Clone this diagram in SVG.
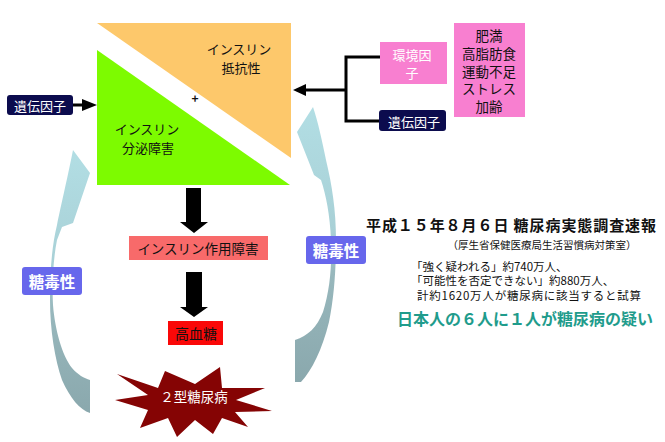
<svg xmlns="http://www.w3.org/2000/svg" width="665" height="442" viewBox="0 0 665 442">
<style>
text{font-family:"Noto Sans CJK JP","Noto Sans",sans-serif;dominant-baseline:central;text-anchor:middle}
.blk{fill:#111}
.wht{fill:#fff}
.navy{fill:#0c0c4e}
.pink{fill:#f87fd0}
.tox{fill:#6767ec}
.ln{stroke:#000;stroke-width:3;fill:none}
.st{text-anchor:start}
</style>
<defs>
<linearGradient id="gl" gradientUnits="userSpaceOnUse" x1="0" y1="150" x2="0" y2="414">
<stop offset="0" stop-color="#b2dee4"/><stop offset="0.45" stop-color="#a8d0d6"/><stop offset="0.6" stop-color="#98b8bd"/><stop offset="1" stop-color="#8aa8ad"/>
</linearGradient>
<linearGradient id="gr" gradientUnits="userSpaceOnUse" x1="0" y1="107" x2="0" y2="382">
<stop offset="0" stop-color="#b2dee4"/><stop offset="0.45" stop-color="#a8d0d6"/><stop offset="0.6" stop-color="#98b8bd"/><stop offset="1" stop-color="#8aa8ad"/>
</linearGradient>
</defs>
<rect width="665" height="442" fill="#fff"/>

<g id="arc-left">
<path d="M73,150 L90,173 L73,223 L62,227 L57,240 C53,260 52,285 53,305 C55,330 62,355 72,368 C78,375 84,378 90,380 L90,413 C80,410 70,398 62,380 C55,360 50,330 50,300 C50,270 52,245 57,225 C61,205 66,185 73,150 Z" fill="url(#gl)"/>
</g>
<g id="arc-right">
<path d="M313,107 L297,132 L314,175 L321,180 C326,195 330,215 331,240 C332,265 330,290 323,312 C317,327 308,336 295,340 L295,382 L301,382 C312,370 322,350 329,322 C334,298 336,270 336,240 C336,210 332,185 326,160 C322,140 318,122 313,107 Z" fill="url(#gr)"/>
</g>

<g id="square">
<polygon points="97,23 291,23 291,158" fill="#fdc86b"/>
<polygon points="97,50 97,185 290,185" fill="#7dfb00"/>
<text x="239" y="48" font-size="13" class="blk">インスリン</text>
<text x="241" y="67" font-size="13" class="blk">抵抗性</text>
<text x="147" y="128" font-size="13" class="blk">インスリン</text>
<text x="148" y="147" font-size="13" class="blk">分泌障害</text>
<text x="195" y="97" font-size="12" font-weight="bold" class="blk">+</text>
</g>

<g id="connectors">
<line x1="72" y1="105" x2="84" y2="105" class="ln"/>
<polygon points="82,99 97,105 82,111" fill="#000"/>
<polyline points="380,57 346,57 346,121 380,121" class="ln"/>
<line x1="346" y1="90" x2="304" y2="90" class="ln"/>
<polygon points="306,84 293,90 306,96" fill="#000"/>
<polygon points="186,188 201,188 201,222 208,222 194,233 180,222 186,222" fill="#000"/>
<polygon points="186,272 202,272 202,307 208,307 194,317 180,307 186,307" fill="#000"/>
</g>

<g id="gene-left">
<rect x="7" y="95" width="66" height="20" rx="3" class="navy"/>
<text x="40" y="105" font-size="13" class="wht">遺伝因子</text>
</g>

<g id="env">
<rect x="380" y="42" width="67" height="42" class="pink"/>
<text x="412" y="54" font-size="13" class="wht">環境因</text>
<text x="412" y="72" font-size="13" class="wht">子</text>
</g>

<g id="gene-right">
<rect x="379" y="110" width="67" height="21" rx="3" class="navy"/>
<text x="414" y="121" font-size="13" class="wht">遺伝因子</text>
</g>

<g id="factors">
<rect x="454" y="23" width="71" height="94" class="pink"/>
<text x="489" y="35" font-size="13.5" class="blk">肥満</text>
<text x="489" y="53" font-size="13.5" class="blk">高脂肪食</text>
<text x="489" y="71" font-size="13.5" class="blk">運動不足</text>
<text x="489" y="88" font-size="13.5" class="blk">ストレス</text>
<text x="489" y="106" font-size="13.5" class="blk">加齢</text>
</g>

<g id="action">
<rect x="129" y="236" width="139" height="24" fill="#f86a6a"/>
<text x="198" y="248" font-size="13.5" class="blk">インスリン作用障害</text>
</g>

<g id="hyper">
<rect x="168" y="321" width="55" height="24" fill="#fa0808"/>
<text x="196" y="333" font-size="14" class="blk">高血糖</text>
</g>

<g id="t2d">
<polygon points="117,374 158,388 165,371 195,384 220,367 222,388 265,388 236,400 272,411 235,412 248,427 222,418 213,434 195,420 177,437 168,418 140,428 148,410 115,400 148,395" fill="#850404"/>
<text x="194" y="396" font-size="13.5" class="wht">２型糖尿病</text>
</g>

<g id="tox-left">
<rect x="22" y="267" width="60" height="28" rx="3" class="tox"/>
<text x="52" y="281" font-size="15.5" font-weight="bold" class="wht">糖毒性</text>
</g>
<g id="tox-right">
<rect x="306" y="236" width="60" height="28" rx="3" class="tox"/>
<text x="336" y="250" font-size="15.5" font-weight="bold" class="wht">糖毒性</text>
</g>

<g id="report">
<text x="366" y="224" font-size="15" font-weight="bold" class="blk st" textLength="290" lengthAdjust="spacing">平成１５年８月６日 糖尿病実態調査速報</text>
<text x="542" y="244" font-size="10.5" class="blk">（厚生省保健医療局生活習慣病対策室）</text>
<text x="411" y="266" font-size="11.5" class="blk st">「強く疑われる」約740万人、</text>
<text x="411" y="280" font-size="11.5" class="blk st">「可能性を否定できない」約880万人、</text>
<text x="417" y="295" font-size="11.5" class="blk st" textLength="224" lengthAdjust="spacing">計約1620万人が糖尿病に該当すると試算</text>
<text x="525" y="318" font-size="16" font-weight="bold" fill="#1f9c8c">日本人の６人に１人が糖尿病の疑い</text>
</g>
</svg>
